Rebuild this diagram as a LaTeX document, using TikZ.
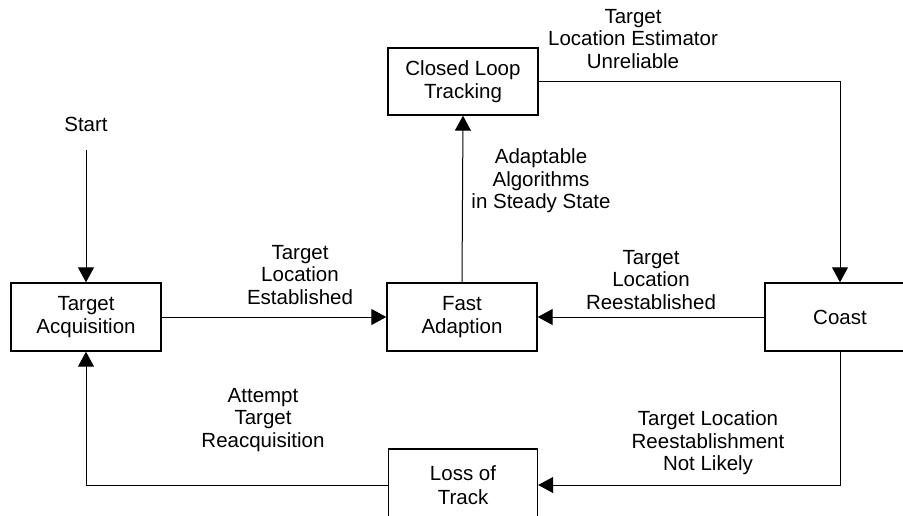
\documentclass[tikz,border=0pt]{standalone}
\usepackage{fontspec}
\setmainfont{Liberation Sans}
\usetikzlibrary{arrows.meta}
\begin{document}
\begin{tikzpicture}[x=1pt,y=-1pt,
  box/.style={draw, line width=1.4pt, minimum width=150pt, minimum height=68pt, inner sep=0pt, align=center, font=\fontsize{20.5}{23.5}\selectfont},
  lbl/.style={align=center, inner sep=0pt, font=\fontsize{20.5}{22.5}\selectfont},
  conn/.style={line width=1pt, -{Triangle[width=16pt,length=15pt]}}]
\useasboundingbox (0,0) rectangle (903,515);
\node[box, minimum height=67pt] (clt) at (463,81.5) {Closed Loop\\Tracking};
\node[box] (ta) at (86,317) {Target\\Acquisition};
\node[box] (fa) at (462,317) {Fast\\Adaption};
\node[box] (coast) at (840,317) {Coast};
\node[box, minimum height=72pt, minimum width=149pt] (lot) at (463,485) {Loss of\\Track};
\node[lbl] (start) at (86,124) {Start};
\coordinate (startpt) at (86,150);
\node[lbl] (l1) at (300,275) {Target\\Location\\Established};
\node[lbl] (l2) at (541,181) {Adaptable\\Algorithms\\in Steady State};
\node[lbl] (l3) at (651,280) {Target\\Location\\Reestablished};
\node[lbl] (l4) at (633,39) {Target\\Location Estimator\\Unreliable};
\node[lbl] (l5) at (263,420) {Attempt\\Target\\Reacquisition};
\node[lbl] (l6) at (708,443) {Target Location\\Reestablishment\\Not Likely};
\draw[conn] (startpt) -- (ta.north);
\draw[conn] (ta.east) -- (fa.west);
\draw[conn] (fa.north) -- (clt.south);
\draw[conn] (clt.east) -| (coast.north);
\draw[conn] (coast.west) -- (fa.east);
\draw[conn] (coast.south) |- (lot.east);
\draw[conn] (lot.west) -| (ta.south);
\end{tikzpicture}
\end{document}
